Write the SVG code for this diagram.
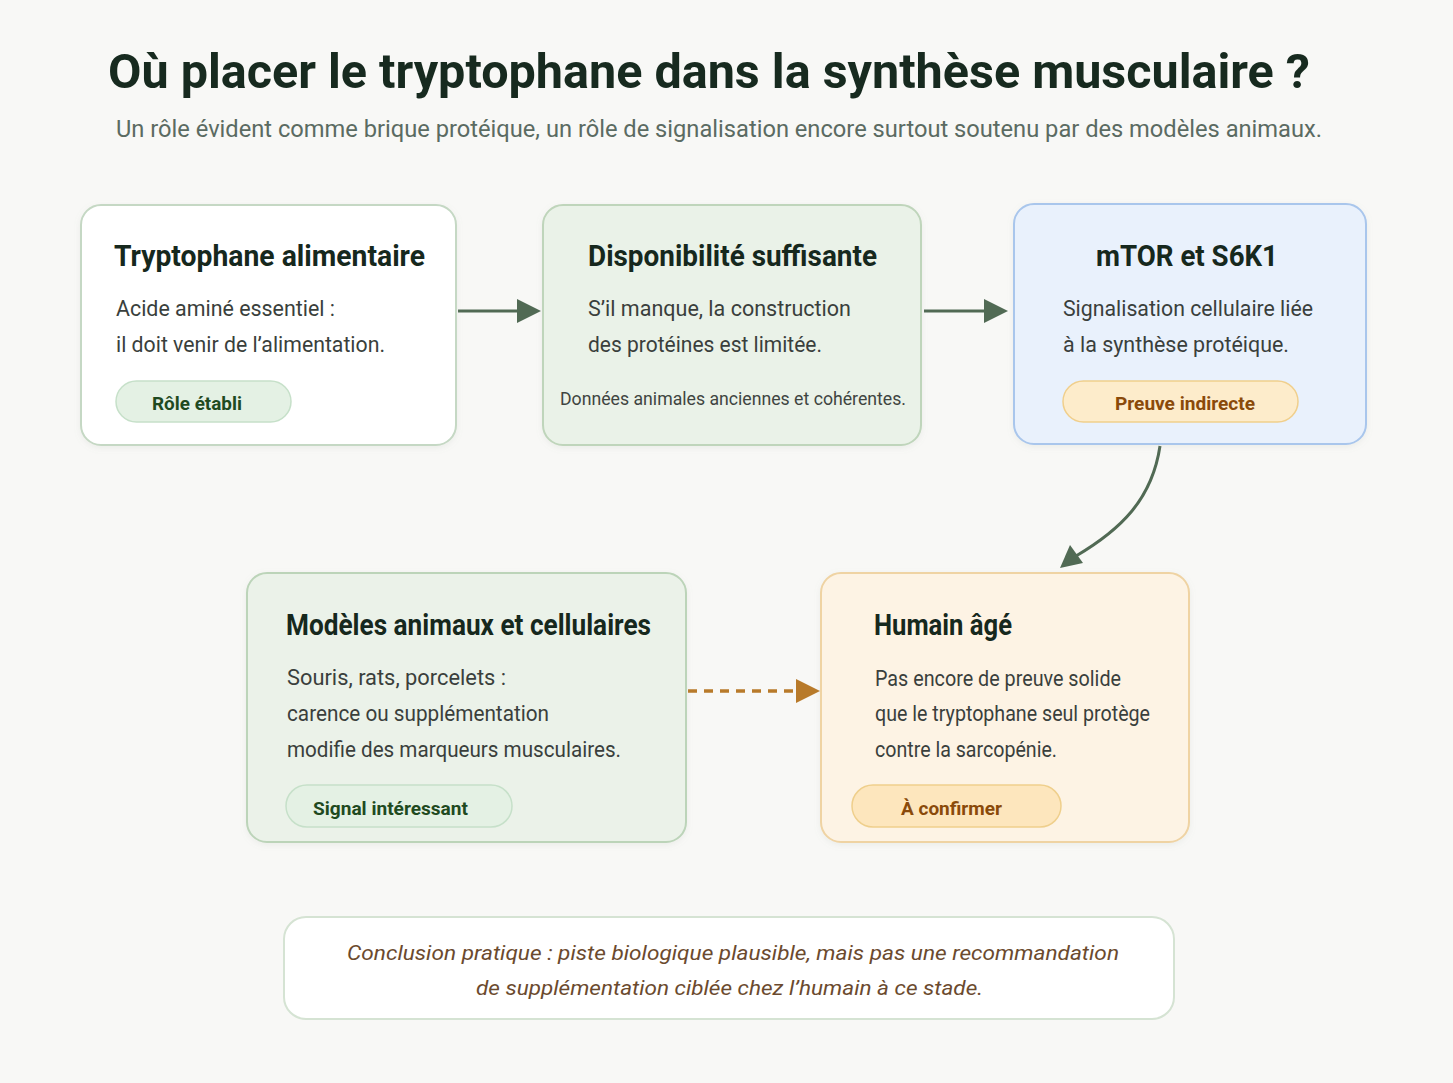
<svg xmlns="http://www.w3.org/2000/svg" width="1453" height="1083" viewBox="0 0 1453 1083">
<defs>
<filter id="sh" x="-5%" y="-5%" width="110%" height="115%"><feDropShadow dx="0" dy="2" stdDeviation="3" flood-color="#8a9a8a" flood-opacity="0.12"/></filter>
<style>
.t{font-family:Roboto,"Liberation Sans",sans-serif;}
.title{font-size:48px;font-weight:700;fill:#172a1f;}
.sub{font-size:23px;fill:#5b6b62;}
.h{font-size:29px;font-weight:700;fill:#16281d;}
.b{font-size:22.5px;fill:#3a3f3c;}
.s{font-size:18px;fill:#3f4541;}
.pg{font-size:19px;font-weight:700;fill:#1f4a1f;}
.po{font-size:19px;font-weight:700;fill:#8a4a0a;}
.c{font-size:21px;font-style:italic;fill:#6b4a2e;}
.ar{fill:none;stroke:#516a54;stroke-width:3;}
</style>
</defs>
<rect width="1453" height="1083" fill="#f8f8f6"/>
<text class="t title" x="108" y="88" textLength="1202" lengthAdjust="spacingAndGlyphs">Où placer le tryptophane dans la synthèse musculaire ?</text>
<text class="t sub" x="116" y="137" textLength="1206" lengthAdjust="spacingAndGlyphs">Un rôle évident comme brique protéique, un rôle de signalisation encore surtout soutenu par des modèles animaux.</text>

<g id="connectors">
<line class="ar" x1="458" y1="311" x2="520" y2="311"/>
<polygon points="517,299 541,311 517,323" fill="#516a54"/>
<line class="ar" x1="924" y1="311" x2="987" y2="311"/>
<polygon points="984,299 1008,311 984,323" fill="#516a54"/>
<path class="ar" d="M1160,446 C1152,500 1120,530 1076,556"/>
<polygon points="1060,568 1070,545 1083,563" fill="#516a54"/>
<line x1="688" y1="691" x2="798" y2="691" stroke="#b87a2a" stroke-width="3.5" stroke-dasharray="9 7"/>
<polygon points="796,679 820,691 796,703" fill="#b87a2a"/>
</g>

<g id="n1">
<rect x="81" y="205" width="375" height="240" rx="20" fill="#ffffff" stroke="#c5d8c4" stroke-width="2" filter="url(#sh)"/>
<text class="t h" x="114" y="266" textLength="311" lengthAdjust="spacingAndGlyphs">Tryptophane alimentaire</text>
<text class="t b" x="116" y="316" textLength="219" lengthAdjust="spacingAndGlyphs">Acide aminé essentiel :</text>
<text class="t b" x="116" y="352" textLength="269" lengthAdjust="spacingAndGlyphs">il doit venir de l’alimentation.</text>
<rect x="116" y="381" width="175" height="41" rx="20.5" fill="#e4f1e4" stroke="#c6e0c9" stroke-width="1.5"/>
<text class="t pg" x="152" y="410" textLength="90" lengthAdjust="spacingAndGlyphs">Rôle établi</text>
</g>

<g id="n2">
<rect x="543" y="205" width="378" height="240" rx="20" fill="#eaf2e8" stroke="#bfd5bb" stroke-width="2" filter="url(#sh)"/>
<text class="t h" x="588" y="266" textLength="289" lengthAdjust="spacingAndGlyphs">Disponibilité suffisante</text>
<text class="t b" x="588" y="316" textLength="263" lengthAdjust="spacingAndGlyphs">S’il manque, la construction</text>
<text class="t b" x="588" y="352" textLength="234" lengthAdjust="spacingAndGlyphs">des protéines est limitée.</text>
<text class="t s" x="560" y="405" textLength="346" lengthAdjust="spacingAndGlyphs">Données animales anciennes et cohérentes.</text>
</g>

<g id="n3">
<rect x="1014" y="204" width="352" height="240" rx="20" fill="#e9f1fc" stroke="#a9c6ec" stroke-width="2" filter="url(#sh)"/>
<text class="t h" x="1096" y="266" textLength="182" lengthAdjust="spacingAndGlyphs">mTOR et S6K1</text>
<text class="t b" x="1063" y="316" textLength="250" lengthAdjust="spacingAndGlyphs">Signalisation cellulaire liée</text>
<text class="t b" x="1063" y="352" textLength="226" lengthAdjust="spacingAndGlyphs">à la synthèse protéique.</text>
<rect x="1063" y="381" width="235" height="41" rx="20.5" fill="#fdeccb" stroke="#f0cf8c" stroke-width="1.5"/>
<text class="t po" x="1115" y="410" textLength="140" lengthAdjust="spacingAndGlyphs">Preuve indirecte</text>
</g>

<g id="n4">
<rect x="247" y="573" width="439" height="269" rx="20" fill="#ebf2e9" stroke="#bcd4b9" stroke-width="2" filter="url(#sh)"/>
<text class="t h" x="286" y="635" textLength="365" lengthAdjust="spacingAndGlyphs">Modèles animaux et cellulaires</text>
<text class="t b" x="287" y="685" textLength="219" lengthAdjust="spacingAndGlyphs">Souris, rats, porcelets :</text>
<text class="t b" x="287" y="721" textLength="262" lengthAdjust="spacingAndGlyphs">carence ou supplémentation</text>
<text class="t b" x="287" y="757" textLength="334" lengthAdjust="spacingAndGlyphs">modifie des marqueurs musculaires.</text>
<rect x="286" y="785" width="226" height="42" rx="21" fill="#e4f1e4" stroke="#c6e0c9" stroke-width="1.5"/>
<text class="t pg" x="313" y="815" textLength="155" lengthAdjust="spacingAndGlyphs">Signal intéressant</text>
</g>

<g id="n5">
<rect x="821" y="573" width="368" height="269" rx="20" fill="#fdf3e4" stroke="#efd3a3" stroke-width="2" filter="url(#sh)"/>
<text class="t h" x="874" y="635" textLength="138" lengthAdjust="spacingAndGlyphs">Humain âgé</text>
<text class="t b" x="875" y="686" textLength="246" lengthAdjust="spacingAndGlyphs">Pas encore de preuve solide</text>
<text class="t b" x="875" y="721" textLength="275" lengthAdjust="spacingAndGlyphs">que le tryptophane seul protège</text>
<text class="t b" x="875" y="757" textLength="182" lengthAdjust="spacingAndGlyphs">contre la sarcopénie.</text>
<rect x="852" y="785" width="209" height="42" rx="21" fill="#fde6bd" stroke="#efcf8c" stroke-width="1.5"/>
<text class="t po" x="901" y="815" textLength="101" lengthAdjust="spacingAndGlyphs">À confirmer</text>
</g>

<g id="conclusion">
<rect x="284" y="917" width="890" height="102" rx="22" fill="#ffffff" stroke="#d5e3d3" stroke-width="2"/>
<text class="t c" x="347" y="960" textLength="772" lengthAdjust="spacingAndGlyphs">Conclusion pratique : piste biologique plausible, mais pas une recommandation</text>
<text class="t c" x="476" y="995" textLength="507" lengthAdjust="spacingAndGlyphs">de supplémentation ciblée chez l’humain à ce stade.</text>
</g>
</svg>
